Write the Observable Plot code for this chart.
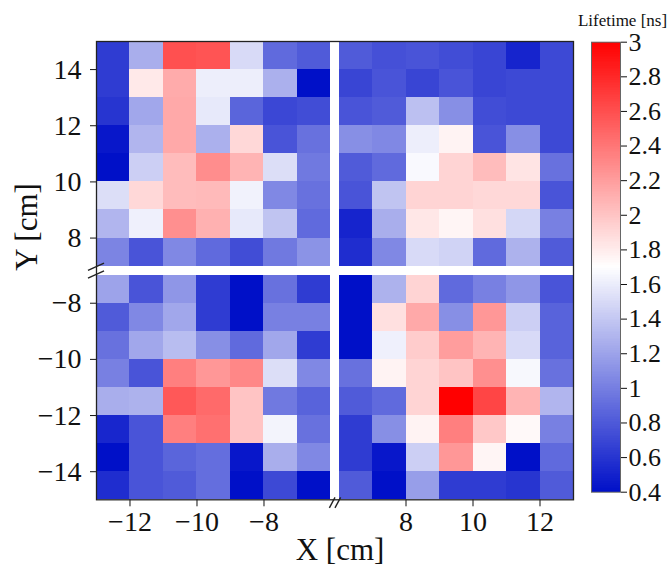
<!DOCTYPE html>
<html>
<head>
<meta charset="utf-8">
<script src="https://cdn.jsdelivr.net/npm/d3@7"></script>
<script src="https://cdn.jsdelivr.net/npm/@observablehq/plot@0.6"></script>
<style>
  body { margin: 0; background: #fff; }
  #wrap { display: flex; width: 668px; height: 566px; background: #fff; }
</style>
</head>
<body>
<div id="wrap"></div>
<script>
// Lifetime [ns] per 1 cm cell; rows listed top to bottom, columns left to right
const topLeft = [      // x -13..-6, y 15..7
  [0.64, 1.26, 2.59, 2.57, 1.50, 0.89, 0.81],
  [0.64, 1.81, 2.13, 1.61, 1.61, 1.27, 0.40],
  [0.60, 1.22, 2.14, 1.58, 0.86, 0.70, 0.73],
  [0.44, 1.30, 2.14, 1.27, 1.90, 0.77, 0.93],
  [0.40, 1.44, 2.04, 2.28, 2.08, 1.52, 0.97],
  [1.52, 1.90, 2.04, 2.05, 1.63, 1.05, 0.93],
  [1.30, 1.62, 2.27, 2.10, 1.58, 1.38, 0.89],
  [1.03, 0.77, 1.05, 0.89, 0.73, 0.97, 1.11]
];
const topRight = [     // x 6..13, y 15..7
  [0.81, 0.75, 0.77, 0.73, 0.69, 0.51, 0.71],
  [0.69, 0.77, 0.69, 0.77, 0.69, 0.71, 0.71],
  [0.77, 0.81, 1.36, 1.09, 0.73, 0.71, 0.71],
  [1.09, 1.05, 1.61, 1.76, 0.77, 1.09, 0.71],
  [0.81, 0.89, 1.67, 1.92, 2.04, 1.84, 0.93],
  [0.77, 1.38, 1.92, 1.92, 1.90, 1.90, 0.77],
  [0.51, 1.26, 1.82, 1.75, 1.86, 1.48, 1.01],
  [0.56, 1.05, 1.50, 1.46, 0.89, 1.28, 0.81]
];
const bottomLeft = [   // x -13..-6, y -7..-15
  [1.20, 0.77, 1.13, 0.64, 0.40, 0.93, 0.64],
  [0.81, 1.05, 1.22, 0.64, 0.40, 1.01, 1.01],
  [0.93, 1.22, 1.34, 1.09, 0.89, 1.22, 0.64],
  [1.01, 0.77, 2.35, 2.23, 2.31, 1.52, 1.05],
  [1.26, 1.28, 2.55, 2.46, 2.00, 0.97, 0.85],
  [0.52, 0.77, 2.35, 2.43, 2.00, 1.64, 0.93],
  [0.40, 0.77, 0.86, 0.91, 0.44, 1.26, 1.05],
  [0.56, 0.77, 0.81, 0.91, 0.40, 0.71, 0.40]
];
const bottomRight = [  // x 6..13, y -7..-15
  [0.40, 1.28, 1.92, 0.89, 1.01, 1.13, 0.77],
  [0.40, 1.86, 2.14, 1.09, 2.23, 1.44, 0.85],
  [0.40, 1.62, 1.96, 2.20, 2.08, 1.50, 0.85],
  [0.93, 1.76, 1.92, 2.00, 2.27, 1.66, 0.93],
  [0.81, 0.89, 1.92, 3.00, 2.65, 2.08, 1.30],
  [0.64, 1.09, 1.76, 2.35, 1.98, 1.73, 1.01],
  [0.64, 0.44, 1.44, 2.23, 1.75, 0.40, 0.89],
  [0.81, 0.40, 1.17, 0.64, 0.64, 0.60, 0.81]
];

const quadrants = [
  {vals: topLeft, x0: -13, yTop: 15},
  {vals: topRight, x0: 6, yTop: 15},
  {vals: bottomLeft, x0: -13, yTop: -7},
  {vals: bottomRight, x0: 6, yTop: -7}
];

const xTickValues = [-12, -10, -8, 8, 10, 12];
const xTickLabels = ["\u221212", "\u221210", "\u22128", "8", "10", "12"];
const yTickValues = [14, 12, 10, 8, -8, -10, -12, -14];
const yTickLabels = ["14", "12", "10", "8", "\u22128", "\u221210", "\u221212", "\u221214"];
const cbTickValues = [0.4, 0.6, 0.8, 1, 1.2, 1.4, 1.6, 1.8, 2, 2.2, 2.4, 2.6, 2.8, 3];
const cbTickLabels = ["0.4", "0.6", "0.8", "1", "1.2", "1.4", "1.6", "1.8", "2", "2.2", "2.4", "2.6", "2.8", "3"];

// broken axes: map the two x ranges and the two y ranges onto one continuous coordinate
const GX = 0.24, GY = 0.32;
const SX = 33.43, SY = 28.06; // px per cm
const bx = x => x < 0 ? x : x - 12 + GX;
const by = y => y < 0 ? y : y - 14 + GY;
const ubx = v => v < -6 + GX / 2 ? v : v + 12 - GX;
const uby = v => v < -7 + GY / 2 ? v : v + 14 - GY;

const cells = [];
for (const q of quadrants) {
  q.vals.forEach((row, r) => row.forEach((v, c) => {
    cells.push({x: q.x0 + c, y: q.yTop - r, v});
  }));
}

const colorScale = {
  type: "linear",
  domain: [0.4, 1.7, 3],
  range: ["#0010c8", "#ffffff", "#ff0000"],
  interpolate: d3.interpolateRgb
};

const font = "'Liberation Serif', 'Times New Roman', serif";

// break marks (two short slanted strokes at each axis break)
const xc = -13 - 0.5 / SX;
const yc = -7 + GY / 2;
const leftBreaks = [-3.9, 3.9].map(o => ({
  x1: xc - 8 / SX, y1: yc + o / SY - 3.6 / SY,
  x2: xc + 8 / SX, y2: yc + o / SY + 3.6 / SY
}));
const gxc = -6 + GX / 2;
const byc = -15 - 2.8 / SY;
const bottomBreaks = [-2.8, 2.8].map(o => ({
  x1: gxc + (o - 2.8) / SX, y1: byc - 5.2 / SY,
  x2: gxc + (o + 2.8) / SX, y2: byc + 5.2 / SY
}));

const main = Plot.plot({
  width: 576,
  height: 566,
  marginLeft: 96,
  marginRight: 3,
  marginTop: 41,
  marginBottom: 66.7,
  style: {fontFamily: font, fontSize: "28px", background: "#fff", color: "#111"},
  x: {
    domain: [-13, 1 + GX],
    ticks: xTickValues.map(bx),
    tickFormat: v => xTickLabels[xTickValues.indexOf(Math.round(ubx(v)))],
    tickSize: 7,
    tickPadding: 4,
    label: null
  },
  y: {
    domain: [-15, 1 + GY],
    ticks: yTickValues.map(by),
    tickFormat: v => yTickLabels[yTickValues.indexOf(Math.round(uby(v)))],
    tickSize: 6,
    tickPadding: 9,
    label: null
  },
  color: colorScale,
  marks: [
    Plot.rect(cells, {
      x1: d => bx(d.x), x2: d => bx(d.x + 1),
      y1: d => by(d.y - 1), y2: d => by(d.y),
      fill: "v",
      shapeRendering: "crispEdges"
    }),
    Plot.frame({stroke: "#222", strokeWidth: 1.3}),
    Plot.link(leftBreaks, {x1: "x1", y1: "y1", x2: "x2", y2: "y2", stroke: "#222", strokeWidth: 1.4}),
    Plot.link(bottomBreaks, {x1: "x1", y1: "y1", x2: "x2", y2: "y2", stroke: "#222", strokeWidth: 1.4}),
    Plot.text(["Y [cm]"], {frameAnchor: "left", dx: -69, rotate: -90, fontSize: 31, fill: "#111"}),
    Plot.text(["X [cm]"], {frameAnchor: "bottom", dx: 5, dy: 50, lineAnchor: "middle", fontSize: 31, fill: "#111"})
  ]
});

const cbStops = d3.range(0.4, 3.0, 0.01);
const cbar = Plot.plot({
  width: 92,
  height: 566,
  marginLeft: 15,
  marginRight: 48,
  marginTop: 41.7,
  marginBottom: 74.3,
  style: {fontFamily: font, fontSize: "26px", background: "#fff", color: "#111"},
  x: {domain: [0, 1], axis: null},
  y: {
    domain: [0.4, 3],
    axis: "right",
    ticks: cbTickValues,
    tickFormat: v => cbTickLabels[cbTickValues.findIndex(t => Math.abs(t - v) < 1e-6)],
    tickSize: 6,
    tickPadding: 2,
    label: null
  },
  color: colorScale,
  marks: [
    Plot.rect(cbStops, {
      x1: 0, x2: 1,
      y1: d => d, y2: d => Math.min(3, d + 0.012),
      fill: d => d + 0.005,
      shapeRendering: "crispEdges"
    }),
    Plot.frame({stroke: "#666", strokeWidth: 1}),
    Plot.text(["Lifetime [ns]"], {frameAnchor: "top", dx: 16.5, dy: -22, lineAnchor: "middle", fontSize: 17, fill: "#111"})
  ]
});

const wrap = document.getElementById("wrap");
wrap.appendChild(main);
wrap.appendChild(cbar);
</script>
</body>
</html>
